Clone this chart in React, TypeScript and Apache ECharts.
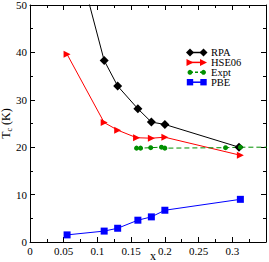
import React, { useEffect, useRef } from "react";
import * as echarts from "echarts";

const xRPA = [0.055, 0.11, 0.13, 0.16, 0.18, 0.2, 0.31];
const yRPA = [68, 38.3, 32.9, 28.1, 25.3, 24.8, 20.0];
const xHSE = [0.055, 0.11, 0.13, 0.158, 0.18, 0.2, 0.312];
const yHSE = [39.6, 25.2, 23.6, 22.0, 21.9, 22.1, 18.3];
const xExpt = [0.158, 0.164, 0.179, 0.195, 0.2, 0.29, 0.312, 0.36];
const yExpt = [19.8, 19.8, 19.9, 20.0, 19.8, 19.9, 20.0, 20.0];
const xPBE = [0.055, 0.11, 0.13, 0.16, 0.18, 0.2, 0.312];
const yPBE = [1.5, 2.3, 2.9, 4.6, 5.3, 6.7, 9.0];

const legendNames = ["RPA", "HSE06", "Expt", "PBE"];
const colors = ["#000000", "#ff0000", "#009000", "#0000ff"];

const FONT = "Liberation Serif";

const zip = (xs: number[], ys: number[]) => xs.map((x, i) => [x, ys[i]]);

export default function App() {
  const ref = useRef<HTMLDivElement>(null);
  useEffect(() => {
    document.body.style.margin = "0";
    const chart = echarts.init(ref.current!, null, { renderer: "svg" });
    const tickX = {
      min: 0,
      max: 0.35,
      interval: 0.05,
      axisLine: { show: true, onZero: false, lineStyle: { color: "#000", width: 1 } },
      axisTick: { show: true, inside: true, length: 5, lineStyle: { color: "#000" } },
      minorTick: { show: true, splitNumber: 2, length: 3, lineStyle: { color: "#000" } },
      splitLine: { show: false },
      minorSplitLine: { show: false },
    };
    const tickY = {
      min: 0,
      max: 50,
      interval: 10,
      axisLine: { show: true, onZero: false, lineStyle: { color: "#000", width: 1 } },
      axisTick: { show: true, inside: true, length: 5, lineStyle: { color: "#000" } },
      minorTick: { show: true, splitNumber: 2, length: 3, lineStyle: { color: "#000" } },
      splitLine: { show: false },
      minorSplitLine: { show: false },
    };
    const legendGraphics: any[] = [];
    legendNames.forEach((name, i) => {
      const cy = 52.5 + i * 9.9;
      const c = colors[i];
      const x1 = 190, x2 = 203.5;
      legendGraphics.push({
        type: "line",
        shape: { x1, y1: cy, x2, y2: cy },
        style: { stroke: c, lineWidth: 1.5, lineDash: i === 2 ? [3, 2] : null },
      });
      [x1, x2].forEach((cx) => {
        if (i === 0) {
          legendGraphics.push({ type: "polygon", shape: { points: [[cx, cy - 4], [cx + 4, cy], [cx, cy + 4], [cx - 4, cy]] }, style: { fill: c } });
        } else if (i === 1) {
          legendGraphics.push({ type: "polygon", shape: { points: [[cx - 3.5, cy - 3.5], [cx + 3.5, cy], [cx - 3.5, cy + 3.5]] }, style: { fill: c } });
        } else if (i === 2) {
          legendGraphics.push({ type: "circle", shape: { cx, cy, r: 2.5 }, style: { fill: c } });
        } else {
          legendGraphics.push({ type: "rect", shape: { x: cx - 3.2, y: cy - 3.2, width: 6.4, height: 6.4 }, style: { fill: c } });
        }
      });
      legendGraphics.push({
        type: "text",
        x: 211,
        y: cy,
        style: { text: name, fill: "#000", font: `10.5px "${FONT}"`, textVerticalAlign: "middle", textAlign: "left" },
      });
    });

    chart.setOption({
      animation: false,
      textStyle: { fontFamily: FONT },
      grid: { left: 30, top: 5, width: 236, height: 237, outerBoundsMode: "none", containLabel: false },
      xAxis: [
        {
          type: "value",
          position: "bottom",
          ...tickX,
          name: "x",
          nameLocation: "middle",
          nameGap: 8,
          nameMoveOverlap: false,
          nameTextStyle: { fontFamily: FONT, fontSize: 12, lineHeight: 11, color: "#000", padding: [0, 0, 0, 10] },
          axisLabel: {
            show: true,
            color: "#000",
            fontFamily: FONT,
            fontSize: 11,
            margin: 3,
            showMaxLabel: false,
            formatter: (v: number) => String(+v.toFixed(2)),
          },
        },
        { type: "value", position: "top", ...tickX, axisLabel: { show: false } },
      ],
      yAxis: [
        {
          type: "value",
          position: "left",
          ...tickY,
          name: "T{sub|c} (K)",
          nameLocation: "middle",
          nameGap: 17,
          nameMoveOverlap: false,
          nameTextStyle: {
            fontFamily: FONT,
            fontSize: 12,
            color: "#000",
            rich: { sub: { fontFamily: FONT, fontSize: 8, color: "#000", verticalAlign: "bottom", padding: [6, 0, 0, 0] } },
          },
          axisLabel: { show: true, color: "#000", fontFamily: FONT, fontSize: 11, margin: 3 },
        },
        { type: "value", position: "right", ...tickY, axisLabel: { show: false } },
      ],
      series: [
        {
          name: "RPA", type: "line", data: zip(xRPA, yRPA), clip: true,
          symbol: "diamond", symbolSize: 9, lineStyle: { color: colors[0], width: 1 }, itemStyle: { color: colors[0] },
        },
        {
          name: "HSE06", type: "line", data: zip(xHSE, yHSE), clip: true,
          symbol: "triangle", symbolRotate: -90, symbolSize: 7, lineStyle: { color: colors[1], width: 1 }, itemStyle: { color: colors[1] },
        },
        {
          name: "Expt", type: "line", data: zip(xExpt, yExpt), clip: true,
          symbol: "circle", symbolSize: 5, lineStyle: { color: colors[2], width: 1, type: [5, 3] }, itemStyle: { color: colors[2] },
        },
        {
          name: "PBE", type: "line", data: zip(xPBE, yPBE), clip: true,
          symbol: "rect", symbolSize: 7, lineStyle: { color: colors[3], width: 1 }, itemStyle: { color: colors[3] },
        },
      ],
      graphic: legendGraphics,
    });
    return () => chart.dispose();
  }, []);
  return <div ref={ref} style={{ width: 269, height: 262 }} />;
}
